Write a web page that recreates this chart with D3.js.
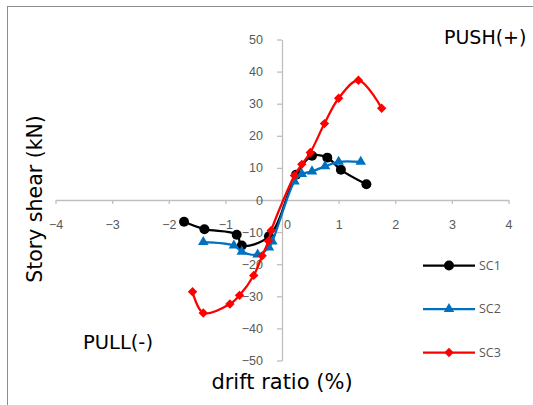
<!DOCTYPE html>
<html>
<head>
<meta charset="utf-8">
<script src="https://cdn.jsdelivr.net/npm/d3@7"></script>
<style>
  body { margin: 0; background: #fff; }
  svg { display: block; font-family: "Open Sans", "Noto Sans", sans-serif; }
  .axis path, .axis line { stroke: #bfbfbf; stroke-width: 1.3; }
  .axis text { fill: #595959; font-size: 12.5px; }
  .title { font-family: "DejaVu Sans", sans-serif; fill: #000; }
</style>
</head>
<body>
<svg id="chart" width="533" height="405"></svg>
<script>
// drift ratio (%) / story shear (kN)
const sc1Drift = [-1.73, -1.37, -0.80, -0.71, -0.23, 0.25, 0.53, 0.80, 1.04, 1.49];
const sc1Shear = [-6.8, -9.1, -10.8, -14.2, -11.3, 7.9, 13.8, 13.2, 9.4, 4.9];

const sc2Drift = [-1.39, -0.85, -0.71, -0.43, -0.23, -0.17, 0.22, 0.35, 0.53, 0.76, 1.00, 1.39];
const sc2Shear = [-13.1, -14.2, -16.1, -17.0, -14.8, -12.9, 5.8, 8.1, 8.9, 10.5, 11.9, 11.9];

const sc3Drift = [-1.58, -1.39, -0.92, -0.75, -0.50, -0.35, -0.24, -0.19, 0.22, 0.35, 0.50, 0.75, 1.00, 1.35, 1.76];
const sc3Shear = [-28.6, -35.2, -32.4, -29.7, -23.5, -17.4, -12.8, -9.5, 7.6, 11.1, 14.8, 23.8, 31.7, 37.3, 28.6];

const xTicks = [-4, -3, -2, -1, 0, 1, 2, 3, 4];
const yTicks = [-50, -40, -30, -20, -10, 0, 10, 20, 30, 40, 50];

const seriesNames = ['SC1', 'SC2', 'SC3'];

const svg = d3.select('#chart');

// outer chart border (only left/top visible)
svg.append('rect')
    .attr('x', 7.5).attr('y', 6.5)
    .attr('width', 560).attr('height', 420)
    .attr('fill', 'none')
    .attr('stroke', '#8c8c8c')
    .attr('stroke-width', 1);

const x = d3.scaleLinear().domain([-4, 4]).range([55.5, 508.5]);
const y = d3.scaleLinear().domain([-50, 50]).range([360.5, 39.5]);

// x axis through y = 0
svg.append('g')
    .attr('class', 'axis')
    .attr('transform', `translate(0,${y(0)})`)
    .call(d3.axisBottom(x).tickValues(xTicks).tickSize(4).tickPadding(16).tickSizeOuter(0))
    .call(g => g.selectAll('text').attr('dx', d => d === 0 ? '0.4em' : 0));

// y axis through x = 0
svg.append('g')
    .attr('class', 'axis')
    .attr('transform', `translate(${x(0)},0)`)
    .call(d3.axisLeft(y).tickValues(yTicks).tickSize(5).tickPadding(14).tickSizeOuter(0));

// diamond = square turned 45deg (Excel style)
const series = [
    { name: 'SC1', color: '#000000', marker: d3.symbolCircle, size: 78, rot: 0, drift: sc1Drift, shear: sc1Shear },
    { name: 'SC2', color: '#0070c0', marker: d3.symbolTriangle, size: 48, rot: 0, drift: sc2Drift, shear: sc2Shear },
    { name: 'SC3', color: '#ff0000', marker: d3.symbolSquare, size: 44, rot: 45, drift: sc3Drift, shear: sc3Shear }
];

const line = d3.line()
    .x(d => x(d[0]))
    .y(d => y(d[1]))
    .curve(d3.curveCatmullRom.alpha(0.5));

series.forEach(s => {
    const pts = s.drift.map((v, i) => [v, s.shear[i]]);
    const g = svg.append('g').attr('class', 'series');

    g.append('path')
        .datum(pts)
        .attr('d', line)
        .attr('fill', 'none')
        .attr('stroke', s.color)
        .attr('stroke-width', 2.25);

    g.selectAll('path.marker')
        .data(pts)
        .enter()
        .append('path')
        .attr('class', 'marker')
        .attr('d', d3.symbol().type(s.marker).size(s.size))
        .attr('transform', d => `translate(${x(d[0])},${y(d[1])}) rotate(${s.rot})`)
        .attr('fill', s.color);
});

// legend
const legendY = d3.scalePoint().domain(seriesNames).range([265.5, 352.5]);
const legend = svg.append('g').attr('class', 'legend');
series.forEach(s => {
    const ly = legendY(s.name);
    legend.append('line')
        .attr('x1', 423).attr('x2', 475)
        .attr('y1', ly).attr('y2', ly)
        .attr('stroke', s.color)
        .attr('stroke-width', 2.25);
    legend.append('path')
        .attr('d', d3.symbol().type(s.marker).size(s.size))
        .attr('transform', `translate(449,${ly}) rotate(${s.rot})`)
        .attr('fill', s.color);
    legend.append('text')
        .attr('x', 479).attr('y', ly)
        .attr('dy', '0.35em')
        .attr('fill', '#595959')
        .style('font-size', '12.5px')
        .text(s.name);
});

// titles
svg.append('text')
    .attr('class', 'title')
    .attr('x', 282).attr('y', 382)
    .attr('dy', '0.35em')
    .attr('text-anchor', 'middle')
    .style('font-size', '21px')
    .text('drift ratio (%)');

svg.append('text')
    .attr('class', 'title')
    .attr('transform', 'translate(35,199) rotate(-90)')
    .attr('dy', '0.35em')
    .attr('text-anchor', 'middle')
    .style('font-size', '20.5px')
    .text('Story shear (kN)');

svg.append('text')
    .attr('class', 'title')
    .attr('x', 444).attr('y', 37)
    .attr('dy', '0.35em')
    .style('font-size', '19px')
    .text('PUSH(+)');

svg.append('text')
    .attr('class', 'title')
    .attr('x', 83).attr('y', 342)
    .attr('dy', '0.35em')
    .style('font-size', '19.5px')
    .text('PULL(-)');
</script>
</body>
</html>
